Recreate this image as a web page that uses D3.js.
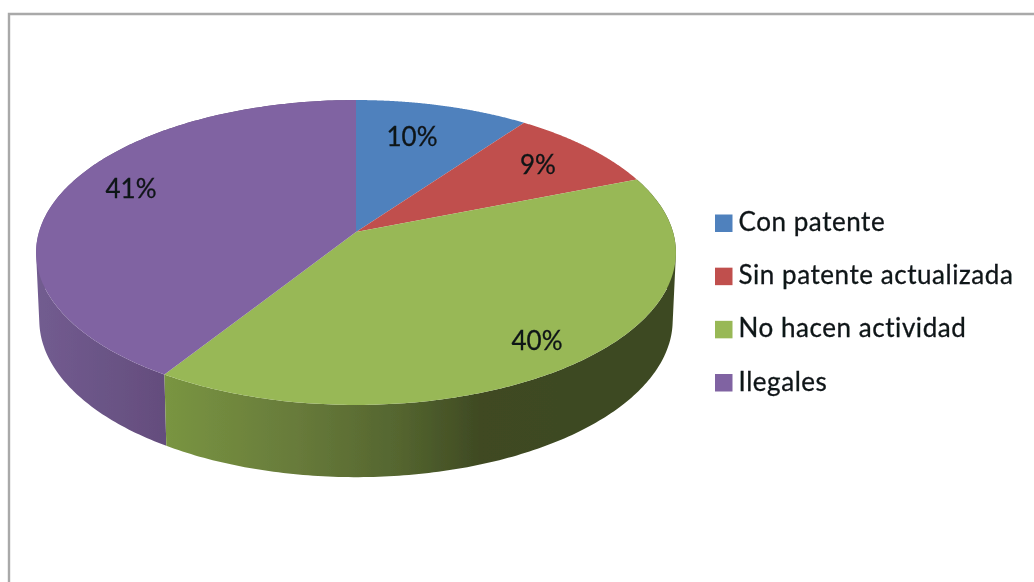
<!DOCTYPE html>
<html>
<head>
<meta charset="utf-8">
<script src="https://cdn.jsdelivr.net/npm/d3@7"></script>
<style>
html,body{margin:0;padding:0;background:#fff;overflow:hidden}
svg{display:block}
text{font-family:Lato,"Open Sans",sans-serif;fill:#101418;stroke:#101418;stroke-width:0.3}
</style>
</head>
<body>
<svg id="chart" width="1034" height="582"></svg>
<script>
const categories = ["Con patente", "Sin patente actualizada", "No hacen actividad", "Ilegales"];
const values = [10, 9, 40, 41];
const colors = ["#4f81bd", "#c0504d", "#98b856", "#8064a2"];
const labelAnchors = [[412,146],[538,174],[537,350],[131,198]];

const svg = d3.select("#chart");
const defs = svg.append("defs");
defs.append("filter").attr("id","soft").attr("x","-5%").attr("y","-5%").attr("width","110%").attr("height","110%")
  .append("feGaussianBlur").attr("stdDeviation",0.55);

const root = svg.append("g").attr("filter","url(#soft)");

// frame
root.append("path").attr("d","M9,582V14H1034").attr("fill","none").attr("stroke","#a9a9a9").attr("stroke-width",2.4);

// pie geometry: a disc seen in perspective
const apex = {x:356, y:232};
const k = 0.1344, A = 149.7, B = 317;
const depth = 67, shrinkX = 0.99, stretchY = 1.03;
function topPoint(a){
  const x = Math.sin(a), y = -Math.cos(a), d = 1 - k*y;
  return [apex.x + B*x/d, apex.y + A*y/d];
}
function bottomPoint(a){
  const p = topPoint(a);
  return [apex.x + (p[0]-apex.x)*shrinkX, apex.y + depth + (p[1]-apex.y)*stretchY];
}
const arcs = d3.pie().sort(null).value(d=>d)(values);
const line = d3.line();
const samples = (a0,a1)=>d3.range(0,181).map(i=>a0+(a1-a0)*i/180);

// wall gradients
const wallStops = {
  2: {x1:160,x2:560,stops:[["0%","#7a9642"],["35%","#677a3a"],["60%","#54652f"],["80%","#3f4a23"],["100%","#3e4a22"]]},
  3: {x1:36,x2:165,stops:[["0%","#725c90"],["100%","#644d7d"]]}
};
Object.entries(wallStops).forEach(([i,g])=>{
  const grad = defs.append("linearGradient").attr("id","wall"+i).attr("gradientUnits","userSpaceOnUse")
    .attr("x1",g.x1).attr("x2",g.x2).attr("y1",0).attr("y2",0);
  g.stops.forEach(s=>grad.append("stop").attr("offset",s[0]).attr("stop-color",s[1]));
});

// walls: every strip is wound the same way so overlapping strips never cancel
[3,2].forEach(i=>{
  const s = samples(arcs[i].startAngle, arcs[i].endAngle);
  let d = "";
  for(let j=0;j<s.length-1;j++){
    const quad = [topPoint(s[j]),topPoint(s[j+1]),bottomPoint(s[j+1]),bottomPoint(s[j])];
    if(d3.polygonArea(quad) < 0) quad.reverse();
    d += line(quad) + "Z";
  }
  root.append("path").attr("d",d).attr("fill","url(#wall"+i+")").attr("stroke","none");
});

// top faces
root.selectAll("path.slice").data(arcs).join("path").attr("class","slice")
  .attr("d",d=>line([[apex.x,apex.y],...samples(d.startAngle,d.endAngle).map(topPoint)])+"Z")
  .attr("fill",(d,i)=>colors[i]);

// percentage labels
root.selectAll("text.pct").data(arcs).join("text").attr("class","pct")
  .attr("x",(d,i)=>labelAnchors[i][0]).attr("y",(d,i)=>labelAnchors[i][1])
  .attr("text-anchor","middle").attr("font-size",26)
  .text(d=>d.value+"%");

// legend
const legendY = d3.scalePoint().domain(categories).range([223,382.5]);
const lg = root.selectAll("g.leg").data(categories).join("g").attr("class","leg")
  .attr("transform",d=>`translate(715,${legendY(d)})`);
lg.append("rect").attr("x",0).attr("y",-8.5).attr("width",17.5).attr("height",17.5).attr("fill",(d,i)=>colors[i]);
lg.append("text").attr("x",23.5).attr("y",8).attr("font-size",26).attr("letter-spacing",0.55).text(d=>d);
</script>
</body>
</html>
